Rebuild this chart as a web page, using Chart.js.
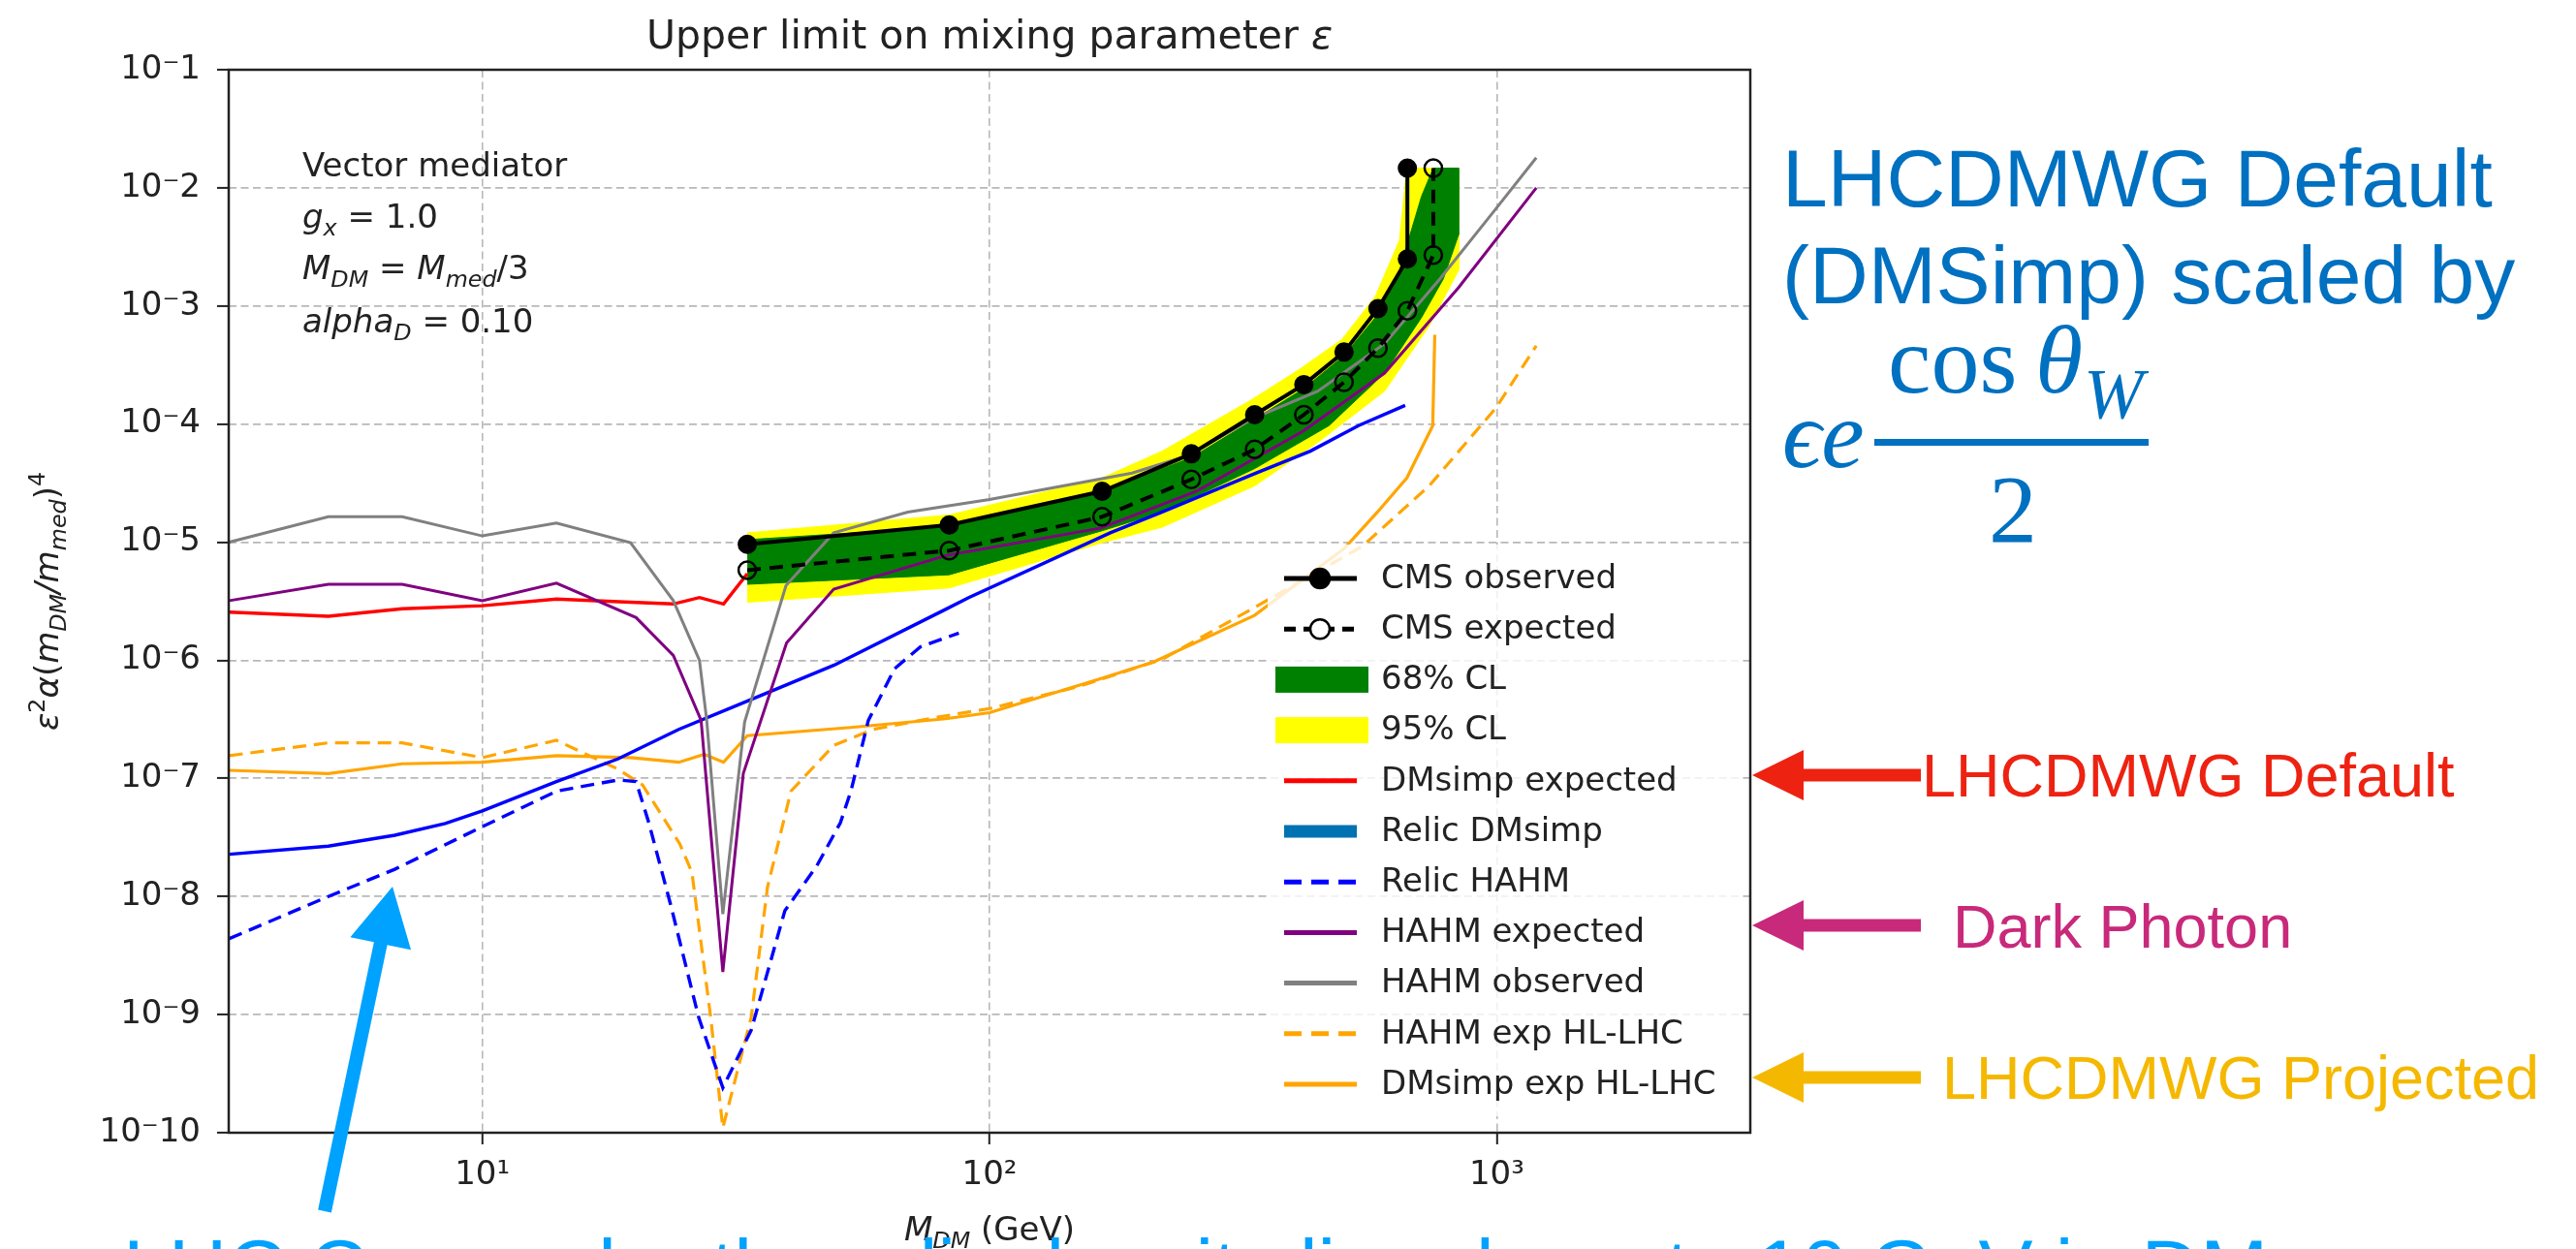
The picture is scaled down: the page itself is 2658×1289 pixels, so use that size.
<!DOCTYPE html>
<html>
<head>
<meta charset="utf-8">
<title>Upper limit on mixing parameter</title>
<script src="https://cdn.jsdelivr.net/npm/chart.js@4.4.1/dist/chart.umd.min.js"></script>
<style>
  html, body { margin:0; padding:0; background:#ffffff; overflow:hidden; }
  #chart { display:block; }
</style>
</head>
<body>
<canvas id="chart" width="2658" height="1289"></canvas>
<script>
// ================= DATA =================
// axis ticks
const xTickValues = [10, 100, 1000];
const xTickLabels = ['10\u00B9', '10\u00B2', '10\u00B3'];
const yTickValues = [1e-10, 1e-9, 1e-8, 1e-7, 1e-6, 1e-5, 1e-4, 1e-3, 1e-2, 1e-1];
const yTickLabels = ['10\u207B10', '10\u207B9', '10\u207B8', '10\u207B7', '10\u207B6',
                     '10\u207B5', '10\u207B4', '10\u207B3', '10\u207B2', '10\u207B1'];

// CMS observed (filled markers)
const obsMass  = [33.3, 83.3, 166.7, 250, 333.3, 416.7, 500, 583.3, 666.7, 666.7];
const obsLimit = [9.6e-6, 1.4e-5, 2.7e-5, 5.6e-5, 1.2e-4, 2.16e-4, 4.07e-4, 9.5e-4, 2.5e-3, 1.47e-2];
// CMS expected (open markers)
const expMass  = [33.3, 83.3, 166.7, 250, 333.3, 416.7, 500, 583.3, 666.7, 750, 750];
const expLimit = [5.8e-6, 8.5e-6, 1.64e-5, 3.4e-5, 6.1e-5, 1.2e-4, 2.26e-4, 4.4e-4, 9.1e-4, 2.7e-3, 1.47e-2];
// 68% CL band
const band68UpMass = [33.3, 83.3, 166.7, 250, 333.3, 416.7, 500, 583.3, 643, 711, 750, 841];
const band68Up     = [1.05e-5, 1.35e-5, 2.7e-5, 5.2e-5, 1.1e-4, 2.0e-4, 3.8e-4, 8.5e-4, 2.0e-3, 8.5e-3, 1.47e-2, 1.47e-2];
const band68LoMass = [33.3, 83.3, 166.7, 219, 333.3, 467, 601, 711, 785, 841];
const band68Lo     = [4.4e-6, 5.3e-6, 1.25e-5, 1.8e-5, 4.2e-5, 9.7e-5, 2.7e-4, 8.0e-4, 1.7e-3, 4.0e-3];
// 95% CL band
const band95UpMass = [33.3, 83.3, 166.7, 219, 328, 408, 495, 576, 643, 665, 841];
const band95Up     = [1.2e-5, 1.7e-5, 3.5e-5, 5.9e-5, 1.6e-4, 2.9e-4, 5.2e-4, 1.2e-3, 3.6e-3, 1.47e-2, 1.47e-2];
const band95LoMass = [33.3, 83.3, 166.7, 219, 333.3, 444, 601, 736, 841];
const band95Lo     = [3.1e-6, 4.1e-6, 9.9e-6, 1.34e-5, 3.0e-5, 7.0e-5, 1.9e-4, 6.8e-4, 2.0e-3];
// DMsimp expected (red)
const dmsimpExpMass = [3.17, 4.97, 6.95, 10, 14, 19.6, 23.8, 26.8, 29.9, 33.3];
const dmsimpExp     = [2.56e-6, 2.36e-6, 2.73e-6, 2.9e-6, 3.3e-6, 3.1e-6, 3.0e-6, 3.4e-6, 3.0e-6, 5.4e-6];
// Relic DMsimp (blue solid)
const relicDmsimpMass = [3.17, 4.97, 6.72, 8.45, 10, 14, 18.5, 24.4, 32.4, 49.4, 80.5, 91, 173, 219, 333, 429, 534, 660];
const relicDmsimp     = [2.28e-8, 2.67e-8, 3.3e-8, 4.15e-8, 5.3e-8, 9.4e-8, 1.46e-7, 2.6e-7, 4.3e-7, 9.1e-7, 2.6e-6, 3.4e-6, 1.2e-5, 1.8e-5, 3.8e-5, 5.9e-5, 9.7e-5, 1.44e-4];
// Relic HAHM (blue dashed)
const relicHahmMass = [3.17, 4.97, 6.72, 10, 14, 18.5, 20.1, 21.3, 23.5, 26.7, 29.8, 33.9, 39.5, 45.6, 50.8, 53.3, 57.7, 65, 73.1, 87];
const relicHahm     = [4.4e-9, 1.0e-8, 1.7e-8, 3.9e-8, 7.8e-8, 9.7e-8, 9.4e-8, 4.2e-8, 8.6e-9, 9.5e-10, 2.4e-10, 7.4e-10, 7.6e-9, 1.8e-8, 4.2e-8, 7.8e-8, 3.1e-7, 8.5e-7, 1.3e-6, 1.7e-6];
// HAHM expected (purple)
const hahmExpMass = [3.17, 4.97, 6.95, 10, 14, 20.1, 23.8, 27.0, 29.8, 32.7, 39.8, 49.3, 82, 166, 256, 415, 601, 842, 1197];
const hahmExp     = [3.2e-6, 4.4e-6, 4.4e-6, 3.2e-6, 4.5e-6, 2.3e-6, 1.1e-6, 3.1e-7, 2.3e-9, 1.1e-7, 1.4e-6, 4.0e-6, 7.7e-6, 1.32e-5, 2.7e-5, 8.7e-5, 2.7e-4, 1.44e-3, 1.0e-2];
// HAHM observed (gray)
const hahmObsMass = [3.17, 4.97, 6.95, 10, 14, 19.6, 23.8, 26.8, 27.7, 29.8, 32.9, 39.7, 49.3, 69, 100, 191, 246, 328, 444, 601, 773, 995, 1197];
const hahmObs     = [1.0e-5, 1.64e-5, 1.64e-5, 1.13e-5, 1.45e-5, 9.9e-6, 3.2e-6, 1.0e-6, 3.1e-7, 7.1e-9, 3.0e-7, 4.3e-6, 1.2e-5, 1.8e-5, 2.3e-5, 3.85e-5, 5.4e-5, 1.1e-4, 1.9e-4, 4.8e-4, 1.7e-3, 6.6e-3, 1.8e-2];
// HAHM exp HL-LHC (orange dashed)
const hahmHlMass = [3.17, 4.97, 6.95, 10, 14, 18.5, 20.7, 24.5, 25.9, 28.2, 29.8, 33.9, 36.5, 40.6, 49.3, 58.9, 79, 100, 150, 219, 333, 543, 736, 995, 1197];
const hahmHl     = [1.56e-7, 2.0e-7, 2.0e-7, 1.5e-7, 2.1e-7, 1.2e-7, 8.8e-8, 2.8e-8, 1.6e-8, 9.5e-10, 1.1e-10, 9.5e-10, 1.2e-8, 7.8e-8, 1.9e-7, 2.6e-7, 3.3e-7, 3.9e-7, 6.0e-7, 1.02e-6, 2.8e-6, 9.2e-6, 3.0e-5, 1.36e-4, 4.6e-4];
// DMsimp exp HL-LHC (orange solid)
const dmsimpHlMass = [3.17, 4.97, 6.95, 10, 14, 19.6, 24.4, 27.4, 29.9, 33.3, 53.3, 82, 100, 166, 211, 333, 500, 582, 665, 748, 755];
const dmsimpHl     = [1.17e-7, 1.1e-7, 1.33e-7, 1.37e-7, 1.56e-7, 1.5e-7, 1.37e-7, 1.6e-7, 1.37e-7, 2.3e-7, 2.7e-7, 3.2e-7, 3.6e-7, 7.0e-7, 9.7e-7, 2.4e-6, 8.8e-6, 1.8e-5, 3.5e-5, 9.7e-5, 5.7e-4];

// texts
const titleText = 'Upper limit on mixing parameter ';
const titleSymbol = '\u03B5';
const legendLabels = ['CMS observed', 'CMS expected', '68% CL', '95% CL', 'DMsimp expected', 'Relic DMsimp',
                      'Relic HAHM', 'HAHM expected', 'HAHM observed', 'HAHM exp HL-LHC', 'DMsimp exp HL-LHC'];
const infoLine1 = 'Vector mediator';
const rightBlue1 = 'LHCDMWG Default';
const rightBlue2 = '(DMSimp) scaled by';
const arrowLabels = ['LHCDMWG Default', 'Dark Photon', 'LHCDMWG Projected'];
const bottomText = 'LHC Can probe the relic density line down to 10 GeV in DM';

// ================= helpers =================
const FAM = "'DejaVu Sans', 'Noto Sans', sans-serif";
const SANS = "'Liberation Sans', Arial, sans-serif";
const SERIF = "'Liberation Serif', 'DejaVu Serif', serif";
const INK = '#222222';

function pts(xs, ys) { return xs.map((x, i) => ({ x: x, y: ys[i] })); }
function polygon(upX, upY, loX, loY) { return pts(upX, upY).concat(pts(loX, loY).reverse()); }

// rich text: parts = [[text, flags]] flags: 'i' italic, 'b' subscript, 'p' superscript
function partFont(flags, size, fam) {
  const s = (flags.includes('b') || flags.includes('p')) ? size * 0.7 : size;
  return (flags.includes('i') ? 'italic ' : '') + s.toFixed(1) + 'px ' + fam;
}
function richWidth(ctx, parts, size, fam) {
  let w = 0;
  for (const [t, f] of parts) { ctx.font = partFont(f, size, fam); w += ctx.measureText(t).width; }
  return w;
}
function drawRich(ctx, x, y, parts, size, fam, align) {
  const w = richWidth(ctx, parts, size, fam);
  let cx = align === 'center' ? x - w / 2 : x;
  ctx.textAlign = 'left';
  ctx.textBaseline = 'alphabetic';
  for (const [t, f] of parts) {
    ctx.font = partFont(f, size, fam);
    let dy = 0;
    if (f.includes('b')) dy = size * 0.24;
    if (f.includes('p')) dy = -size * 0.40;
    ctx.fillText(t, cx, y + dy);
    cx += ctx.measureText(t).width;
  }
}
function leftArrow(ctx, tipX, y, headLen, headHalf, shaftEnd, shaftHalf, color) {
  ctx.fillStyle = color;
  ctx.beginPath();
  ctx.moveTo(tipX, y);
  ctx.lineTo(tipX + headLen, y - headHalf);
  ctx.lineTo(tipX + headLen, y - shaftHalf);
  ctx.lineTo(shaftEnd, y - shaftHalf);
  ctx.lineTo(shaftEnd, y + shaftHalf);
  ctx.lineTo(tipX + headLen, y + shaftHalf);
  ctx.lineTo(tipX + headLen, y + headHalf);
  ctx.closePath();
  ctx.fill();
}

// ================= styles =================
const lineStyles = {
  'CMS observed':      { color: '#000000', width: 4 },
  'CMS expected':      { color: '#000000', width: 4, dash: [14, 9] },
  'HAHM observed':     { color: '#808080', width: 3 },
  'HAHM expected':     { color: '#800080', width: 3 },
  'Relic DMsimp':      { color: '#0000FF', width: 3.4 },
  'Relic HAHM':        { color: '#0000FF', width: 3.4, dash: [14, 8] },
  'DMsimp expected':   { color: '#FF0000', width: 3.4 },
  'HAHM exp HL-LHC':   { color: '#FFA500', width: 3.2, dash: [14, 8] },
  'DMsimp exp HL-LHC': { color: '#FFA500', width: 3.2 },
  '68% CL':            { color: '#008000' },
  '95% CL':            { color: '#FFFF00' }
};
const legendHandles = {
  'CMS observed':      { kind: 'line', color: '#000000', width: 5, marker: 'filled' },
  'CMS expected':      { kind: 'line', color: '#000000', width: 5, dash: [12, 8], marker: 'open' },
  '68% CL':            { kind: 'box', color: '#008000' },
  '95% CL':            { kind: 'box', color: '#FFFF00' },
  'DMsimp expected':   { kind: 'line', color: '#FF0000', width: 5 },
  'Relic DMsimp':      { kind: 'line', color: '#0072B2', width: 13 },
  'Relic HAHM':        { kind: 'line', color: '#0000FF', width: 5, dash: [18, 10] },
  'HAHM expected':     { kind: 'line', color: '#800080', width: 5 },
  'HAHM observed':     { kind: 'line', color: '#808080', width: 5 },
  'HAHM exp HL-LHC':   { kind: 'line', color: '#FFA500', width: 5, dash: [18, 10] },
  'DMsimp exp HL-LHC': { kind: 'line', color: '#FFA500', width: 5 }
};

function lineDs(label, data, order, extra) {
  const s = lineStyles[label];
  return Object.assign({
    label: label, data: data, order: order,
    borderColor: s.color, borderWidth: s.width, borderDash: s.dash || [],
    backgroundColor: s.color, pointRadius: 0, pointHoverRadius: 0,
    fill: false, tension: 0
  }, extra || {});
}
function bandDs(label, data, order) {
  const s = lineStyles[label];
  return {
    label: label, data: data, order: order,
    borderColor: s.color, borderWidth: 1, backgroundColor: s.color,
    pointRadius: 0, pointHoverRadius: 0, fill: 'shape', tension: 0
  };
}

const datasets = [
  lineDs('CMS observed', pts(obsMass, obsLimit), 0,
    { pointRadius: 9, pointBackgroundColor: '#000000', pointBorderColor: '#000000', pointBorderWidth: 2 }),
  lineDs('CMS expected', pts(expMass, expLimit), 1,
    { pointRadius: 9, pointBackgroundColor: 'rgba(0,0,0,0)', pointBorderColor: '#000000', pointBorderWidth: 2.5 }),
  lineDs('HAHM observed', pts(hahmObsMass, hahmObs), 2),
  lineDs('HAHM expected', pts(hahmExpMass, hahmExp), 3),
  lineDs('Relic DMsimp', pts(relicDmsimpMass, relicDmsimp), 4),
  lineDs('Relic HAHM', pts(relicHahmMass, relicHahm), 5),
  lineDs('DMsimp expected', pts(dmsimpExpMass, dmsimpExp), 6),
  lineDs('HAHM exp HL-LHC', pts(hahmHlMass, hahmHl), 7),
  lineDs('DMsimp exp HL-LHC', pts(dmsimpHlMass, dmsimpHl), 8),
  bandDs('68% CL', polygon(band68UpMass, band68Up, band68LoMass, band68Lo), 9),
  bandDs('95% CL', polygon(band95UpMass, band95Up, band95LoMass, band95Lo), 10)
];

// ================= decoration plugin =================
const deco = {
  id: 'deco',
  afterDatasetsDraw(chart) {
    const ctx = chart.ctx;
    const a = chart.chartArea;
    ctx.save();
    // axes frame
    ctx.strokeStyle = INK;
    ctx.lineWidth = 2.5;
    ctx.strokeRect(a.left, a.top, a.right - a.left, a.bottom - a.top);

    // info text
    ctx.fillStyle = INK;
    drawRich(ctx, 312, 182, [[infoLine1, '']], 34, FAM);
    drawRich(ctx, 312, 235, [['g', 'i'], ['x', 'ib'], [' = 1.0', '']], 34, FAM);
    drawRich(ctx, 312, 288, [['M', 'i'], ['DM', 'ib'], [' = ', ''], ['M', 'i'], ['med', 'ib'], ['/3', '']], 34, FAM);
    drawRich(ctx, 312, 343, [['alpha', 'i'], ['D', 'ib'], [' = 0.10', '']], 34, FAM);

    // legend (semi-transparent white box, frame nearly invisible)
    const lx0 = 1308, lx1 = 1796, ly0 = 562, ly1 = 1152;
    ctx.fillStyle = 'rgba(255,255,255,0.8)';
    ctx.beginPath();
    ctx.roundRect(lx0, ly0, lx1 - lx0, ly1 - ly0, 8);
    ctx.fill();
    const rowStart = 597, rowStep = 52.2;
    legendLabels.forEach((lab, i) => {
      const y = rowStart + i * rowStep;
      const h = legendHandles[lab];
      if (h.kind === 'box') {
        ctx.fillStyle = h.color;
        ctx.fillRect(1316, y - 13.5, 96, 27);
      } else {
        ctx.strokeStyle = h.color;
        ctx.lineWidth = h.width;
        ctx.setLineDash(h.dash || []);
        ctx.lineCap = 'butt';
        ctx.beginPath();
        ctx.moveTo(1325, y);
        ctx.lineTo(1400, y);
        ctx.stroke();
        ctx.setLineDash([]);
        if (h.marker) {
          ctx.beginPath();
          ctx.arc(1362, y, 10, 0, Math.PI * 2);
          ctx.fillStyle = h.marker === 'filled' ? '#000000' : '#ffffff';
          ctx.fill();
          ctx.lineWidth = 2.5;
          ctx.strokeStyle = '#000000';
          ctx.stroke();
        }
      }
      ctx.fillStyle = INK;
      ctx.font = '34px ' + FAM;
      ctx.textAlign = 'left';
      ctx.textBaseline = 'middle';
      ctx.fillText(lab, 1425, y + 1);
    });
    ctx.restore();
  },
  afterDraw(chart) {
    const ctx = chart.ctx;
    const a = chart.chartArea;
    const cx = (a.left + a.right) / 2;
    ctx.save();
    ctx.fillStyle = INK;
    // title
    drawRich(ctx, cx, 50, [[titleText, ''], [titleSymbol, 'i']], 41, FAM, 'center');
    // x axis title
    drawRich(ctx, cx, 1280, [['M', 'i'], ['DM', 'ib'], [' (GeV)', '']], 34, FAM, 'center');
    // y axis title (rotated)
    ctx.save();
    ctx.translate(60, (a.top + a.bottom) / 2);
    ctx.rotate(-Math.PI / 2);
    drawRich(ctx, 0, 0, [['\u03B5', 'i'], ['2', 'p'], ['\u03B1', 'i'], ['(', ''], ['m', 'i'], ['DM', 'ib'],
                         ['/', 'i'], ['m', 'i'], ['med', 'ib'], [')', ''], ['4', 'p']], 34, FAM, 'center');
    ctx.restore();

    // right-hand annotation (blue)
    const blue = '#0070C0';
    ctx.fillStyle = blue;
    ctx.textAlign = 'left';
    ctx.textBaseline = 'alphabetic';
    ctx.font = '84px ' + SANS;
    ctx.fillText(rightBlue1, 1839, 213);
    ctx.fillText(rightBlue2, 1839, 313);
    ctx.font = 'italic 100px ' + SERIF;
    ctx.fillText('\u03F5e', 1839, 482);
    ctx.fillRect(1934, 453, 283, 7);
    ctx.font = '100px ' + SERIF;
    ctx.fillText('cos', 1948, 405);
    ctx.font = 'italic 100px ' + SERIF;
    ctx.fillText('\u03B8', 2100, 405);
    ctx.font = 'italic 74px ' + SERIF;
    ctx.fillText('W', 2150, 432);
    ctx.font = '100px ' + SERIF;
    ctx.fillText('2', 2052, 559);

    // arrows + labels
    const arrowCols = ['#EE2211', '#C8297A', '#F5B800'];
    const arrowYs = [800, 955, 1112];
    const labelXs = [1983, 2015, 2004];
    const labelBase = [822, 978, 1134];
    for (let i = 0; i < 3; i++) {
      leftArrow(ctx, 1808, arrowYs[i], 53, 26, 1982, 6.5, arrowCols[i]);
      ctx.fillStyle = arrowCols[i];
      ctx.font = '63px ' + SANS;
      ctx.fillText(arrowLabels[i], labelXs[i], labelBase[i]);
    }

    // cyan arrow pointing up-right
    const cyan = '#00A2FF';
    const tail = [335, 1250], tip = [405, 915];
    const dx = tip[0] - tail[0], dy = tip[1] - tail[1];
    const L = Math.hypot(dx, dy), ux = dx / L, uy = dy / L, px = -uy, py = ux;
    const hb = [tip[0] - ux * 60, tip[1] - uy * 60];
    ctx.fillStyle = cyan;
    ctx.beginPath();
    ctx.moveTo(tail[0] + px * 7, tail[1] + py * 7);
    ctx.lineTo(hb[0] + px * 7, hb[1] + py * 7);
    ctx.lineTo(hb[0] + px * 32, hb[1] + py * 32);
    ctx.lineTo(tip[0], tip[1]);
    ctx.lineTo(hb[0] - px * 32, hb[1] - py * 32);
    ctx.lineTo(hb[0] - px * 7, hb[1] - py * 7);
    ctx.lineTo(tail[0] - px * 7, tail[1] - py * 7);
    ctx.closePath();
    ctx.fill();

    // bottom text (cut by the picture edge)
    ctx.font = '84px ' + SANS;
    ctx.fillText(bottomText, 127, 1338);
    ctx.restore();
  }
};

// ================= chart =================
new Chart(document.getElementById('chart'), {
  type: 'line',
  data: { datasets: datasets },
  plugins: [deco],
  options: {
    responsive: false,
    animation: false,
    devicePixelRatio: 1,
    layout: { padding: { left: 0, right: 852, top: 72, bottom: 0 } },
    plugins: { legend: { display: false }, title: { display: false }, tooltip: { enabled: false } },
    events: [],
    scales: {
      x: {
        type: 'logarithmic',
        min: Math.pow(10, 0.5), max: Math.pow(10, 3.5),
        afterBuildTicks: (s) => { s.ticks = xTickValues.map(v => ({ value: v })); },
        afterFit: (s) => { s.height = 120; },
        border: { display: false, dash: [8, 4.5] },
        grid: { color: '#b8b8b8', lineWidth: 1.6, tickColor: INK, tickWidth: 2, tickLength: 12, tickBorderDash: [] },
        ticks: {
          autoSkip: false, maxRotation: 0, padding: 12, color: INK,
          font: { family: "'DejaVu Sans'", size: 34 },
          callback: (v) => { const i = xTickValues.indexOf(v); return i >= 0 ? xTickLabels[i] : ''; }
        }
      },
      y: {
        type: 'logarithmic',
        min: 1e-10, max: 1e-1,
        afterBuildTicks: (s) => { s.ticks = yTickValues.map(v => ({ value: v })); },
        afterFit: (s) => { s.width = 236; },
        border: { display: false, dash: [8, 4.5] },
        grid: { color: '#b8b8b8', lineWidth: 1.8, tickColor: INK, tickWidth: 2, tickLength: 12, tickBorderDash: [] },
        ticks: {
          autoSkip: false, padding: 17, color: INK,
          font: { family: "'DejaVu Sans'", size: 34 },
          callback: (v) => {
            const i = yTickValues.findIndex(t => Math.abs(Math.log10(t) - Math.log10(v)) < 1e-6);
            return i >= 0 ? yTickLabels[i] : '';
          }
        }
      }
    }
  }
});
</script>
</body>
</html>
